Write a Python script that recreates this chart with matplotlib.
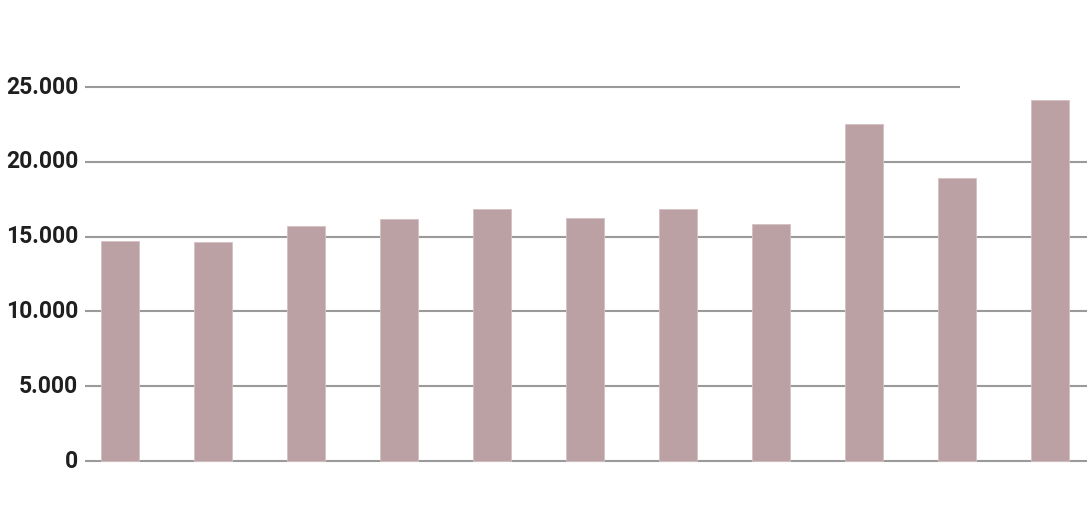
import matplotlib
matplotlib.use('Agg')
import matplotlib.pyplot as plt
from matplotlib.ticker import FuncFormatter

# 데이터
values = [14700, 14640, 15710, 16180, 16840, 16240, 16840, 15840, 22530, 18920, 24130]
y_ticks = [0, 5000, 10000, 15000, 20000, 25000]

BAR = '#bca1a4'
GRID = '#9a9a9a'
TEXT = '#1f1f1f'

plt.rcParams['font.family'] = ['Roboto', 'DejaVu Sans']

fig = plt.figure(figsize=(10.92, 5.18), dpi=100, facecolor='white')
ax = fig.add_axes([85 / 1092, 57 / 518, 1002 / 1092, 374 / 518])

x = list(range(len(values)))
ax.set_xlim(-0.376, 10.4)
ax.set_ylim(0, 25000)

# 가로 눈금선 (맨 위 줄은 짧게)
for t in y_ticks:
    xmax = 9.03 if t == 25000 else 10.4
    ax.hlines(t, -0.376, xmax, color=GRID, linewidth=1.5, zorder=1, clip_on=False)

ax.bar(x, values, width=0.41, color=BAR, edgecolor='#d4c0c2', linewidth=0.6,
       zorder=2, clip_on=False)

for s in ax.spines.values():
    s.set_visible(False)
ax.set_xticks([])
ax.set_yticks(y_ticks)
ax.yaxis.set_major_formatter(FuncFormatter(lambda v, _: f'{int(v):,}'.replace(',', '.')))
ax.tick_params(axis='y', length=0, pad=5, labelsize=16.5, labelcolor=TEXT)
for lbl in ax.get_yticklabels():
    lbl.set_fontweight('semibold')
    lbl.set_verticalalignment('center')

fig.savefig('out.png', dpi=100, facecolor='white')
